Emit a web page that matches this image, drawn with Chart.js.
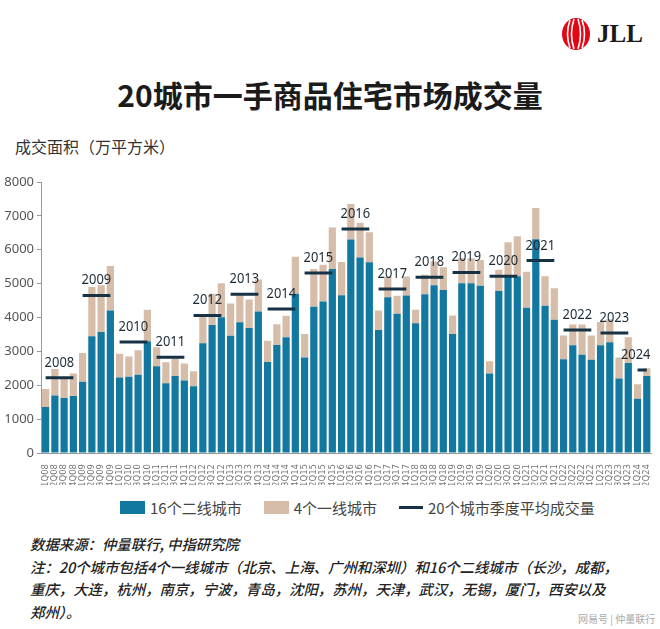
<!DOCTYPE html>
<html>
<head>
<meta charset="utf-8">
<script src="https://cdn.jsdelivr.net/npm/chart.js@4.4.0/dist/chart.umd.min.js"></script>
<style>
  body { margin: 0; background: #fff; font-family: "Noto Sans CJK SC", "Noto Sans", sans-serif; }
  #page { position: relative; width: 660px; height: 629px; overflow: hidden; }
  #title { position: absolute; top: 72px; left: 0; width: 660px; text-align: center; font-size: 30px; font-weight: 700; color: #1b1b1b; }
  #ytitle { position: absolute; top: 134px; left: 15px; font-size: 16px; color: #333; }
  #wrap { position: absolute; top: 170px; left: 0; width: 660px; height: 315px; }
  #legend { position: absolute; top: 497px; left: 120px; display: flex; align-items: center; font-size: 15px; color: #444; }
  .sw { display: inline-block; width: 25px; height: 13px; margin-right: 5px; }
  .ln { display: inline-block; width: 24px; height: 3px; background: #163345; margin-right: 5px; }
  .item { display: flex; align-items: center; margin-right: 22px; }
  #notes { position: absolute; top: 533px; left: 30px; font-size: 14.4px; line-height: 22.6px; font-style: italic; font-weight: 500; color: #222; }
  #mark { position: absolute; top: 611px; left: 578px; font-size: 10px; color: #aaa; }
  #logo { position: absolute; top: 17px; left: 561px; display: flex; align-items: center; }
  #logo span { font-family: "Liberation Serif", serif; font-weight: 700; font-size: 25px; color: #1a1a1a; margin-left: 6px; }
</style>
</head>
<body>
<div id="page">
  <div id="logo">
    <svg width="30" height="34" viewBox="0 0 30 34">
      <ellipse cx="15" cy="17" rx="14" ry="16" fill="#e30613"/>
      <path d="M9 3 Q4 17 9 31" stroke="#fff" stroke-width="1.6" fill="none"/>
      <path d="M13 2 Q8 17 13 32" stroke="#fff" stroke-width="1.6" fill="none"/>
      <path d="M17 2 Q22 17 17 32" stroke="#fff" stroke-width="1.6" fill="none"/>
      <path d="M21 3 Q26 17 21 31" stroke="#fff" stroke-width="1.6" fill="none"/>
    </svg>
    <span>JLL</span>
  </div>
  <div id="title">20城市一手商品住宅市场成交量</div>
  <div id="ytitle">成交面积（万平方米）</div>
  <div id="wrap"><canvas id="chart" width="660" height="315"></canvas></div>
  <div id="legend">
    <div class="item"><span class="sw" style="background:#13789f"></span>16个二线城市</div>
    <div class="item"><span class="sw" style="background:#d6bda9"></span>4个一线城市</div>
    <div class="item"><span class="ln"></span>20个城市季度平均成交量</div>
  </div>
  <div id="notes">
    数据来源：仲量联行, 中指研究院<br>
    注：20个城市包括4个一线城市（北京、上海、广州和深圳）和16个二线城市（长沙，成都，<br>
    重庆，大连，杭州，南京，宁波，青岛，沈阳，苏州，天津，武汉，无锡，厦门，西安以及<br>
    郑州）。
  </div>
  <div id="mark">网易号 | 仲量联行</div>
</div>
<script>
const years = ["2008", "2009", "2010", "2011", "2012", "2013", "2014", "2015", "2016",
  "2017", "2018", "2019", "2020", "2021", "2022", "2023", "2024"];
const quarters = [];
years.forEach(y => {
  ["1Q", "2Q", "3Q", "4Q"].forEach(q => {
    if (y === "2024" && (q === "3Q" || q === "4Q")) return;
    quarters.push(q + y.slice(2));
  });
});

// 16 second-tier cities (blue)
const tier2 = [1360, 1700, 1620, 1680, 2100, 3450, 3570, 4210, 2230, 2250, 2310, 3300,
  2560, 2060, 2270, 2140, 1970, 3240, 3780, 4010, 3460, 3860, 3690, 4180,
  2690, 3190, 3420, 4700, 2820, 4320, 4470, 5430, 4660, 6300, 5770, 5630,
  3630, 4600, 4110, 4650, 3830, 4690, 4950, 4810, 3510, 5010, 5010, 4940,
  2350, 4780, 5220, 5220, 4290, 6310, 4350, 3930, 2770, 3180, 2900, 2750,
  3180, 3270, 2200, 2660, 1600, 2270];

// 4 first-tier cities (tan, stacked on top)
const tier1 = [530, 780, 580, 670, 850, 1450, 1380, 1310, 700, 600, 720, 930,
  560, 620, 530, 500, 440, 810, 920, 1000, 950, 820, 840, 940,
  620, 610, 630, 1090, 690, 1110, 1090, 1230, 980, 1050, 1030, 890,
  580, 600, 530, 560, 400, 570, 700, 670, 550, 740, 740, 760,
  360, 630, 1000, 1180, 1060, 920, 870, 930, 700, 610, 890, 720,
  690, 680, 620, 760, 430, 230];

// quarterly average of the 20 cities, per year
const yearAvg = [2220, 4650, 3280, 2830, 4060, 4690, 4250, 5310, 6610, 4840,
  5190, 5330, 5220, 5680, 3630, 3540, 2450];

const yTicks = [0, 1000, 2000, 3000, 4000, 5000, 6000, 7000, 8000];

const avgLine = quarters.map((q, i) => yearAvg[Math.floor(i / 4)]);
const navy = "#163345";

const yearLabels = {
  id: "yearLabels",
  afterDatasetsDraw(chart) {
    const ctx = chart.ctx;
    const meta = chart.getDatasetMeta(2);
    const right = chart.chartArea.right;
    ctx.save();
    ctx.font = "15px 'Noto Sans', sans-serif";
    ctx.fillStyle = "#1c2b36";
    ctx.textBaseline = "alphabetic";
    years.forEach((y, k) => {
      const pt = meta.data[k * 4];
      const w = ctx.measureText(y).width * 0.86;
      const x = Math.min(pt.x - 1, right - w - 1);
      ctx.save();
      ctx.translate(x, pt.y - 11);
      ctx.scale(0.86, 1);
      ctx.fillText(y, 0, 0);
      ctx.restore();
    });
    ctx.restore();
  }
};

new Chart(document.getElementById("chart").getContext("2d"), {
  type: "bar",
  data: {
    labels: quarters,
    datasets: [
      {
        label: "16个二线城市",
        data: tier2,
        backgroundColor: "#13789f",
        stack: "s",
        order: 2,
      },
      {
        label: "4个一线城市",
        data: tier1,
        backgroundColor: "#d6bda9",
        stack: "s",
        order: 2,
      },
      {
        type: "line",
        label: "20个城市季度平均成交量",
        data: avgLine,
        borderColor: navy,
        borderWidth: 3,
        pointRadius: 0,
        order: 1,
        segment: {
          borderColor: c => Math.floor(c.p0DataIndex / 4) === Math.floor(c.p1DataIndex / 4) ? navy : "transparent",
        },
      },
    ],
  },
  options: {
    responsive: false,
    animation: false,
    layout: { padding: { top: 12, right: 2, bottom: 0, left: 0 } },
    plugins: { legend: { display: false }, tooltip: { enabled: false } },
    datasets: { bar: { barPercentage: 0.78, categoryPercentage: 1 } },
    scales: {
      x: {
        stacked: true,
        grid: { display: false },
        border: { color: "#999" },
        ticks: {
          autoSkip: false,
          minRotation: 90,
          maxRotation: 90,
          padding: 3,
          color: "#777",
          font: { size: 8.5, family: "'DejaVu Sans', sans-serif" },
        },
        afterFit: s => { s.height = 32; },
      },
      y: {
        stacked: true,
        min: 0,
        max: 8000,
        afterBuildTicks: s => { s.ticks = yTicks.map(v => ({ value: v })); },
        grid: { drawOnChartArea: false, drawTicks: true, tickLength: 4, color: "#999" },
        border: { color: "#999" },
        ticks: {
          padding: 3,
          color: "#555",
          font: { size: 13, family: "'Noto Sans', sans-serif" },
          callback: v => String(v),
        },
        afterFit: s => { s.width = 41; },
      },
    },
  },
  plugins: [yearLabels],
});
</script>
</body>
</html>
